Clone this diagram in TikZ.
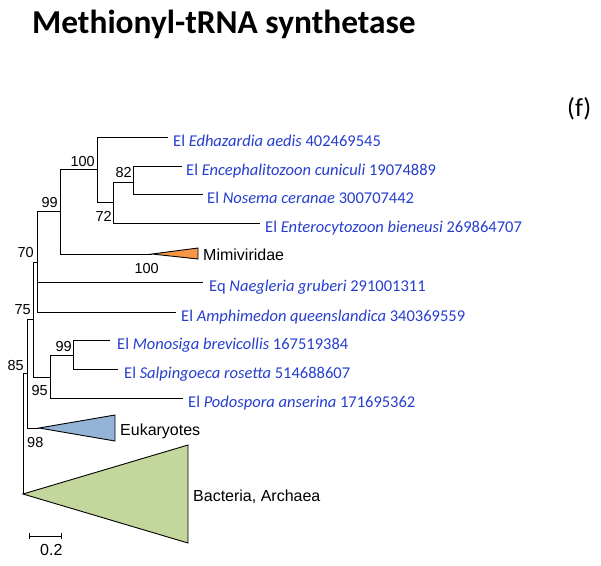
\documentclass[tikz,border=0pt]{standalone}
\usepackage{fontspec}
\setmainfont{Carlito}
\newfontfamily\arialfont{Liberation Sans}
\usetikzlibrary{calc}
\definecolor{taxblue}{RGB}{38,62,206}
\definecolor{mimiorange}{RGB}{247,150,70}
\definecolor{eukblue}{RGB}{149,179,215}
\definecolor{bacgreen}{RGB}{195,214,155}
\tikzstyle{branch} = [draw, line width=0.9pt, color=black]
\tikzstyle{collapsed} = [draw, line width=0.9pt, line join=miter]
\tikzstyle{taxon} = [anchor=base west, inner sep=0pt, text=taxblue,
	font=\fontsize{16.5}{20}\selectfont]
\tikzstyle{boot} = [anchor=base east, inner sep=0pt,
	font=\arialfont\fontsize{14.5}{17}\selectfont]
\tikzstyle{clade} = [anchor=base west, inner sep=0pt,
	font=\arialfont\fontsize{16}{19}\selectfont]
\newcommand{\taxon}[4]{node (t#1) [taxon]
	{#2 \textit{#3} #4}}

\begin{document}
\begin{tikzpicture}[x=1pt,y=-1pt]
	\useasboundingbox (0,0) rectangle (601,565);

	\path (32,33) node (title) [anchor=base west, inner sep=0pt,
		font=\bfseries\fontsize{33.4}{38}\selectfont] {Methionyl-tRNA synthetase};
	\path (567,116) node (panel) [anchor=base west, inner sep=0pt,
		font=\fontsize{26}{30}\selectfont] {(f)};

	% inner nodes of the tree
	\coordinate (n85)  at ( 23,433);
	\coordinate (n98)  at ( 27,373);
	\coordinate (n75)  at ( 33,319);
	\coordinate (n70)  at ( 37,262);
	\coordinate (n99a) at ( 60,211);
	\coordinate (n100) at ( 97,169);
	\coordinate (n72)  at (113,202);
	\coordinate (n82)  at (133,182);
	\coordinate (n95)  at ( 50,377);
	\coordinate (n99b) at ( 73,355);

	% leaf ends and tips of the collapsed clades
	\coordinate (l1) at (168,137);
	\coordinate (l2) at (182,166);
	\coordinate (l3) at (203,194);
	\coordinate (l4) at (260,223);
	\coordinate (l5) at (203,282);
	\coordinate (l6) at (176,312);
	\coordinate (l7) at (110,340);
	\coordinate (l8) at (118,369);
	\coordinate (l9) at (183,398);
	\coordinate (mmt) at (152,254);
	\coordinate (ekt) at ( 39,428);
	\coordinate (bac) at ( 23,494);

	% collapsed clades
	\path [collapsed, fill=mimiorange] (mmt) -- ++(46,-6) -- ++(0,11) -- cycle;
	\path [collapsed, fill=eukblue] (ekt) -- ++(76,-13) -- ++(0,26) -- cycle;
	\path [collapsed, fill=bacgreen] (bac) -- ++(165,-49) -- ++(0,98) -- cycle;

	% branches
	\path [branch] (n85) |- (n98);
	\path [branch] (n85) |- (bac);
	\path [branch] (n98) |- (n75);
	\path [branch] (n98) |- (ekt);
	\path [branch] (n75) |- (n70);
	\path [branch] (n75) |- (n95);
	\path [branch] (n70) |- (n99a);
	\path [branch] (n70) |- (l5);
	\path [branch] (n70) |- (l6);
	\path [branch] (n99a) |- (n100);
	\path [branch] (n99a) |- (mmt);
	\path [branch] (n100) |- (l1);
	\path [branch] (n100) |- (n72);
	\path [branch] (n72) |- (n82);
	\path [branch] (n72) |- (l4);
	\path [branch] (n82) |- (l2);
	\path [branch] (n82) |- (l3);
	\path [branch] (n95) |- (n99b);
	\path [branch] (n95) |- (l9);
	\path [branch] (n99b) |- (l7);
	\path [branch] (n99b) |- (l8);

	% leaf labels
	\path (l1)+(5,9) \taxon{1}{El}{Edhazardia aedis}{402469545};
	\path (l2)+(4,9) \taxon{2}{El}{Encephalitozoon cuniculi}{19074889};
	\path (l3)+(4,9) \taxon{3}{El}{Nosema ceranae}{300707442};
	\path (l4)+(5,9) \taxon{4}{El}{Enterocytozoon bieneusi}{269864707};
	\path (l5)+(6,9) \taxon{5}{Eq}{Naegleria gruberi}{291001311};
	\path (l6)+(5,9) \taxon{6}{El}{Amphimedon queenslandica}{340369559};
	\path (l7)+(7,9) \taxon{7}{El}{Monosiga brevicollis}{167519384};
	\path (l8)+(6,9) \taxon{8}{El}{Salpingoeca rosetta}{514688607};
	\path (l9)+(5,9) \taxon{9}{El}{Podospora anserina}{171695362};

	\path (mmt)+(51,6) node (c1) [clade] {Mimiviridae};
	\path (ekt)+(81,7) node (c2) [clade] {Eukaryotes};
	\path (bac)+(170,7) node (c3) [clade] {Bacteria, Archaea};

	% support values
	\path (n99a)+(-2,-4) node (b1) [boot] {99};
	\path (n100)+(-2,-3) node (b2) [boot] {100};
	\path (n82)+(-1,-5) node (b3) [boot] {82};
	\path (n72)+(-1,19) node (b4) [boot] {72};
	\path (mmt)+(7,19) node (b5) [boot] {100};
	\path (n70)+(-3,-5) node (b6) [boot] {70};
	\path (n75)+(-2,-5) node (b7) [boot] {75};
	\path (n99b)+(-1,-4) node (b8) [boot] {99};
	\path (n98)+(-3,-3) node (b9) [boot] {85};
	\path (n95)+(-2,18) node (b10) [boot] {95};
	\path (n98 |- ekt)+(0,19) node (b11) [boot, anchor=base west] {98};

	% scale bar
	\coordinate (sb1) at (29,536);
	\coordinate (sb2) at (61,536);
	\path [branch] (sb1) -- (sb2);
	\path [branch] ($(sb1)+(0,-3)$) -- ($(sb1)+(0,3)$);
	\path [branch] ($(sb2)+(0,-3)$) -- ($(sb2)+(0,3)$);
	\path (sb1)+(11,19) node (sbl) [clade] {0.2};
\end{tikzpicture}
\end{document}
